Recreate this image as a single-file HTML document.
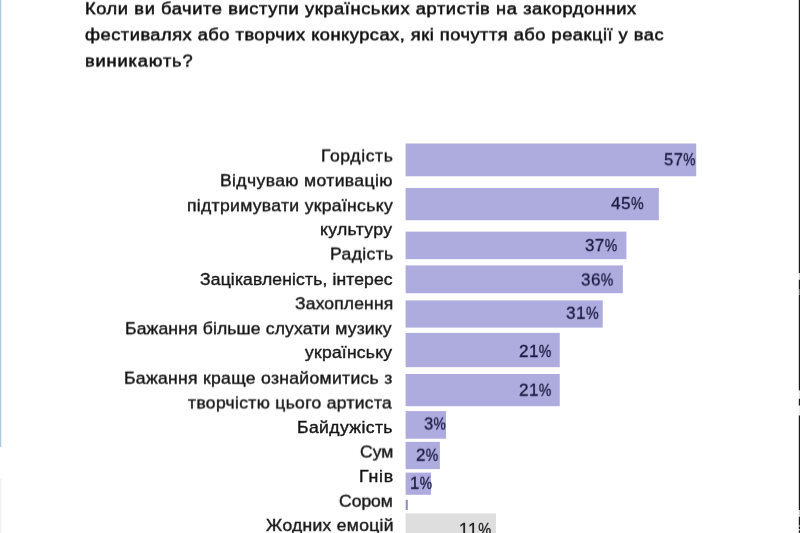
<!DOCTYPE html>
<html lang="uk">
<head>
<meta charset="utf-8">
<title>Опитування</title>
<style>
html,body{margin:0;padding:0;background:#fff;width:800px;height:533px;overflow:hidden;}
.chart{position:absolute;left:0;top:0;width:800px;height:533px;overflow:hidden;background:#fff;font-family:"Liberation Sans","DejaVu Sans",sans-serif;}
.t,.l,.p{position:absolute;white-space:nowrap;line-height:1;margin:0;font-weight:normal;transform-origin:0 0;}
.t{font-size:17.4px;letter-spacing:0.2px;color:#111111;-webkit-text-stroke:0.55px #111111;}
.l{font-size:16.3px;letter-spacing:0.0px;color:#161616;-webkit-text-stroke:0.38px #161616;}
.p{font-size:17.2px;letter-spacing:0.5px;color:#17173c;-webkit-text-stroke:0.3px #17173c;}
.pc{display:inline-block;transform:scaleX(0.83);transform-origin:0 0;}
.bars{position:absolute;left:0;top:0;}
.edge-l{position:absolute;left:0;top:0;width:4px;height:447px;background:linear-gradient(to right,#a3c2d5 0,#b6cfdd 0.9px,#eaf3f8 1.5px,#f8fcfe 2.5px,#fff 4px);}
.edge-l2{position:absolute;left:0;top:478px;width:3px;height:55px;background:linear-gradient(to right,#eeeeee 0,#f3f3f3 1px,#fcfcfc 1.6px,#fff 3px);}
</style>
</head>
<body>
<div class="chart">
<div class="edge-l"></div><div class="edge-l2"></div>
<h1 style="margin:0;font-size:inherit;font-weight:inherit">
<span class="t" style="left:84.52px;top:0px;letter-spacing:0.574px;transform:translateY(0.30px) rotateX(0.2deg) scaleX(1.0500)">Коли ви бачите виступи українських артистів на закордонних</span>
<span class="t" style="left:85.37px;top:26px;letter-spacing:0.468px;transform:translateY(0.35px) rotateX(0.2deg) scaleX(1.0500)">фестивалях або творчих конкурсах, які почуття або реакції у вас</span>
<span class="t" style="left:84.59px;top:52px;letter-spacing:0.800px;transform:translateY(0.50px) rotateX(0.2deg) scaleX(1.0500)">виникають?</span>
</h1>
<div class="l" style="left:320.66px;top:147px;letter-spacing:0.553px;transform:translateY(0.50px) rotateX(0.2deg) scaleX(1.0800)">Гордість</div>
<div class="l" style="left:220.16px;top:172px;letter-spacing:0.331px;transform:translateY(0.20px) rotateX(0.2deg) scaleX(1.0800)">Відчуваю мотивацію</div>
<div class="l" style="left:186.75px;top:197px;letter-spacing:0.281px;transform:translateY(0.25px) rotateX(0.2deg) scaleX(1.0800)">підтримувати українську</div>
<div class="l" style="left:320.02px;top:221px;letter-spacing:0.320px;transform:translateY(0.10px) rotateX(0.2deg) scaleX(1.0800)">культуру</div>
<div class="l" style="left:329.66px;top:245px;letter-spacing:0.326px;transform:translateY(0.60px) rotateX(0.2deg) scaleX(1.0800)">Радість</div>
<div class="l" style="left:199.86px;top:271px;letter-spacing:0.099px;transform:translateY(0.00px) rotateX(0.2deg) scaleX(1.0800)">Зацікавленість, інтерес</div>
<div class="l" style="left:294.86px;top:295px;letter-spacing:0.092px;transform:translateY(0.25px) rotateX(0.2deg) scaleX(1.0800)">Захоплення</div>
<div class="l" style="left:125.41px;top:320px;letter-spacing:0.115px;transform:translateY(0.25px) rotateX(0.2deg) scaleX(1.0800)">Бажання більше слухати музику</div>
<div class="l" style="left:305.28px;top:344px;letter-spacing:0.171px;transform:translateY(0.00px) rotateX(0.2deg) scaleX(1.0800)">українську</div>
<div class="l" style="left:124.26px;top:369px;letter-spacing:0.274px;transform:translateY(0.75px) rotateX(0.2deg) scaleX(1.0800)">Бажання краще ознайомитись з</div>
<div class="l" style="left:188.31px;top:394px;letter-spacing:0.263px;transform:translateY(0.50px) rotateX(0.2deg) scaleX(1.0800)">творчістю цього артиста</div>
<div class="l" style="left:297.16px;top:419px;letter-spacing:0.354px;transform:translateY(0.00px) rotateX(0.2deg) scaleX(1.0800)">Байдужість</div>
<div class="l" style="left:359.82px;top:443px;letter-spacing:-0.017px;transform:translateY(0.50px) rotateX(0.2deg) scaleX(1.0800)">Сум</div>
<div class="l" style="left:358.54px;top:468px;letter-spacing:0.700px;transform:translateY(0.00px) rotateX(0.2deg) scaleX(1.0915)">Гнів</div>
<div class="l" style="left:339.07px;top:492px;letter-spacing:-0.072px;transform:translateY(0.70px) rotateX(0.2deg) scaleX(1.0800)">Сором</div>
<div class="l" style="left:265.61px;top:516px;letter-spacing:0.240px;transform:translateY(0.90px) rotateX(0.2deg) scaleX(1.0800)">Жодних емоцій</div>
<svg class="bars" width="800" height="533" viewBox="0 0 800 533">
<rect x="405.60" y="143.50" width="290.60" height="32.80" fill="#aeacde"/>
<rect x="405.60" y="188.00" width="253.25" height="32.20" fill="#aeacde"/>
<rect x="405.60" y="231.60" width="220.80" height="27.55" fill="#aeacde"/>
<rect x="405.60" y="265.40" width="217.25" height="27.80" fill="#aeacde"/>
<rect x="405.60" y="300.40" width="197.15" height="27.20" fill="#aeacde"/>
<rect x="405.60" y="332.90" width="154.15" height="34.30" fill="#aeacde"/>
<rect x="405.60" y="374.00" width="154.15" height="32.20" fill="#aeacde"/>
<rect x="405.60" y="411.10" width="40.40" height="27.60" fill="#aeacde"/>
<rect x="405.60" y="441.85" width="34.30" height="27.30" fill="#aeacde"/>
<rect x="405.60" y="472.60" width="25.40" height="22.20" fill="#aeacde"/>
<rect x="405.70" y="499.80" width="2.10" height="10.15" fill="#8d8ec2"/>
<rect x="405.60" y="513.40" width="90.40" height="20.60" fill="#dedede"/>
<rect x="798.8" y="0" width="1.2" height="533" fill="#1a1a1a"/>
<rect x="798" y="273.3" width="2" height="6.2" fill="#fff"/><rect x="798.8" y="273.3" width="1.2" height="6.2" fill="#d4d4d4"/>
<rect x="798" y="289.7" width="2" height="4.8" fill="#fff"/><rect x="798.8" y="289.7" width="1.2" height="4.8" fill="#6e6e6e"/>
<rect x="798" y="390.6" width="2" height="7.9" fill="#fff"/><rect x="798.8" y="390.6" width="1.2" height="7.9" fill="#e2e2e2"/>
<rect x="798" y="405.7" width="2" height="9.6" fill="#fff"/><rect x="798.8" y="405.7" width="1.2" height="9.6" fill="#ececec"/>
<rect x="798" y="510.3" width="2" height="6.2" fill="#fff"/><rect x="798.8" y="510.3" width="1.2" height="6.2" fill="#cfcfcf"/>
<rect x="798" y="525.5" width="2" height="1.5" fill="#fff"/><rect x="798.8" y="525.5" width="1.2" height="1.5" fill="#7a7a7a"/>
<rect x="798" y="529.0" width="2" height="1.2" fill="#fff"/><rect x="798.8" y="529.0" width="1.2" height="1.2" fill="#d0d0d0"/>
</svg>
<div class="p" style="left:664.04px;top:151px;transform:translateY(0.20px) rotateX(0.2deg) scaleX(0.9608)">57<span class="pc">%</span></div>
<div class="p" style="left:610.94px;top:195px;transform:translateY(0.10px) rotateX(0.2deg) scaleX(0.9948)">45<span class="pc">%</span></div>
<div class="p" style="left:585.34px;top:237px;transform:translateY(0.10px) rotateX(0.2deg) scaleX(0.9827)">37<span class="pc">%</span></div>
<div class="p" style="left:581.04px;top:271px;transform:translateY(0.50px) rotateX(0.2deg) scaleX(0.9859)">36<span class="pc">%</span></div>
<div class="p" style="left:565.93px;top:304px;transform:translateY(0.75px) rotateX(0.2deg) scaleX(0.9954)">31<span class="pc">%</span></div>
<div class="p" style="left:519.25px;top:342px;transform:translateY(0.90px) rotateX(0.2deg) scaleX(0.9901)">21<span class="pc">%</span></div>
<div class="p" style="left:519.25px;top:381px;transform:translateY(0.75px) rotateX(0.2deg) scaleX(0.9901)">21<span class="pc">%</span></div>
<div class="p" style="left:423.85px;top:415px;transform:translateY(0.50px) rotateX(0.2deg) scaleX(0.9655)">3<span class="pc">%</span></div>
<div class="p" style="left:415.75px;top:446px;transform:translateY(0.75px) rotateX(0.2deg) scaleX(0.9833)">2<span class="pc">%</span></div>
<div class="p" style="left:409.56px;top:474px;transform:translateY(0.80px) rotateX(0.2deg) scaleX(0.9693)">1<span class="pc">%</span></div>
<div class="p" style="left:458.80px;top:521px;transform:scaleX(1.0184);color:#1c1c1c;-webkit-text-stroke-color:#1c1c1c">11<span class="pc">%</span></div>
</div>
</body>
</html>
